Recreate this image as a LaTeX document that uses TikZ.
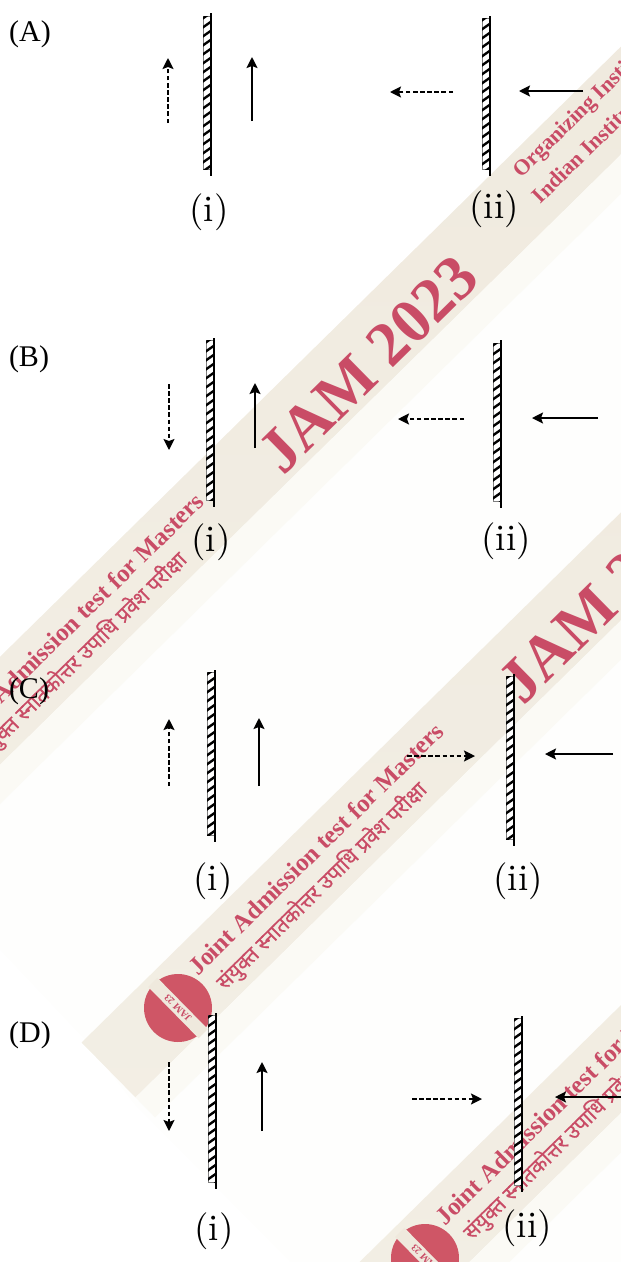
\documentclass[tikz,border=0pt]{standalone}
\usepackage{fontspec}
\usetikzlibrary{arrows.meta,positioning}
\newfontfamily\timesfont{Liberation Serif}
\newfontfamily\devfont[Script=Devanagari,FakeBold=0.5]{Noto Sans}
\newfontfamily\cmfont[Extension=.otf]{lmroman10-regular}
\definecolor{wmcream}{HTML}{EFE9DD}
\definecolor{wmpale}{HTML}{FBFAF5}
\definecolor{wmred}{HTML}{C94C66}
\definecolor{wmdisc}{HTML}{CF5666}
\definecolor{wmpage}{HTML}{FEFEFD}

% one strip of the watermark, origin at the centre of its disc
\newcommand{\wmstrip}[2]{
  \begin{scope}[shift={(#1,#2)},rotate=44.5,transform shape]
    \shade[top color=wmcream,bottom color=wmcream!70!wmpale] (-93,-43) rectangle (1400,34);
    \fill[wmpale] (-93,34) rectangle (1400,62);
    \fill[wmdisc] (0,0) circle (34);
    \fill[wmcream] (-6.5,-36) rectangle (6.5,36);
    \node[wmlbl,font=\timesfont\bfseries\fontsize{10}{10}\selectfont,rotate=90] at (0,0) {JAM 23};
    \node[wmlbl,font=\timesfont\bfseries\fontsize{25}{25}\selectfont] at (210,-17) {Joint Admission test for Masters};
    \node[wmlbl,font=\devfont\fontsize{21}{21}\selectfont] at (188,14) {संयुक्त स्नातकोत्तर उपाधि प्रवेश परीक्षा};
    \node[wmlbl,font=\timesfont\bfseries\fontsize{63}{63}\selectfont] at (597,6) {JAM 2023};
    \node[wmlbl,anchor=west,font=\timesfont\bfseries\fontsize{22}{22}\selectfont] at (836,-24) {Organizing Institute};
    \node[wmlbl,anchor=west,font=\timesfont\bfseries\fontsize{22}{22}\selectfont] at (832,6) {Indian Institute};
  \end{scope}
}
% hatched mirror: x of the line, line top and bottom, hatch top and bottom
\newcommand{\mirrorwall}[5]{
  \begin{scope}
    \fill[white] (#2-8,#4) rectangle (#2,#5);
    \draw[gray,thin] (#2-8,#4) rectangle (#2,#5);
    \clip (#2-8,#4) rectangle (#2,#5);
    \foreach \k in {0,9,...,190}
      \draw[line width=2.4pt] (#2-9,#4+\k+3) -- (#2+1,#4+\k-4);
  \end{scope}
  \coordinate (#1t) at (#2,#3);
  \coordinate (#1b) at (#2,#5+7);
  \draw[wallline] (#1t) -- (#1b);
}
\newcommand{\lightray}[6]{
  \coordinate (#2s) at (#3,#4);
  \coordinate (#2e) at (#5,#6);
  \draw[#1] (#2s) -- (#2e);
}

\begin{document}
\begin{tikzpicture}[
    x=1pt, y=-1pt,
    wmlbl/.style={text=wmred, inner sep=0pt},
    partlbl/.style={font=\timesfont\fontsize{30}{30}\selectfont, inner sep=0pt},
    sublbl/.style={font=\cmfont\fontsize{37}{37}\selectfont, inner sep=0pt},
    wallline/.style={black, line width=2.2pt},
    solidray/.style={-{Stealth[length=11pt,width=11pt,inset=2pt]}, black, line width=1.8pt},
    dashray/.style={-{Stealth[length=11pt,width=11pt,inset=2pt]}, black, line width=1.8pt, dash pattern=on 4.5pt off 2.6pt},
  ]
  \useasboundingbox (0,0) rectangle (621,1262);
  \clip (0,0) rectangle (621,1262);

  % watermark
  \fill[wmpage] (0,720) -- (621,110) -- (621,1262) -- (290,1262) -- (135,1105) -- (85,1040) -- (0,950) -- cycle;
  \wmstrip{-62}{778}
  \wmstrip{178}{1008}
  \wmstrip{425}{1258}

  \node[partlbl](partA) at (30,34) {(A)};
  \node[partlbl](partB) at (29,359) {(B)};
  \node[partlbl](partC) at (29,691) {(C)};
  \node[partlbl](partD) at (30,1035) {(D)};

  \node[sublbl](Ai) at (209,212) {(i)};
  \node[sublbl](Aii) at (494,209) {(ii)};
  \node[sublbl](Bi) at (211,542) {(i)};
  \node[sublbl](Bii) at (506,541) {(ii)};
  \node[sublbl](Ci) at (213,881) {(i)};
  \node[sublbl](Cii) at (518,881) {(ii)};
  \node[sublbl](Di) at (214,1231) {(i)};
  \node[sublbl](Dii) at (527,1228) {(ii)};

  \mirrorwall{wAi}{211}{13}{16}{169}
  \mirrorwall{wAii}{490}{16}{18}{169}
  \mirrorwall{wBi}{214}{338}{340}{500}
  \mirrorwall{wBii}{501}{340}{343}{501}
  \mirrorwall{wCi}{215}{670}{672}{835}
  \mirrorwall{wCii}{514}{674}{676}{839}
  \mirrorwall{wDi}{216}{1013}{1015}{1182}
  \mirrorwall{wDii}{522}{1016}{1018}{1185}

  \lightray{dashray}{dAi}{168}{123}{168}{58}
  \lightray{solidray}{sAi}{252}{121}{252}{57}
  \lightray{dashray}{dAii}{453}{92}{390}{92}
  \lightray{solidray}{sAii}{583}{91}{519}{91}

  \lightray{dashray}{dBi}{169}{384}{169}{450}
  \lightray{solidray}{sBi}{255}{448}{255}{383}
  \lightray{dashray}{dBii}{464}{419}{398}{419}
  \lightray{solidray}{sBii}{598}{418}{532}{418}

  \lightray{dashray}{dCi}{169}{786}{169}{719}
  \lightray{solidray}{sCi}{259}{786}{259}{718}
  \lightray{dashray}{dCii}{407}{756}{475}{756}
  \lightray{solidray}{sCii}{613}{754}{545}{754}

  \lightray{dashray}{dDi}{169}{1062}{169}{1131}
  \lightray{solidray}{sDi}{262}{1131}{262}{1062}
  \lightray{dashray}{dDii}{412}{1099}{482}{1099}
  \lightray{solidray}{sDii}{621}{1097}{555}{1097}
\end{tikzpicture}
\end{document}
